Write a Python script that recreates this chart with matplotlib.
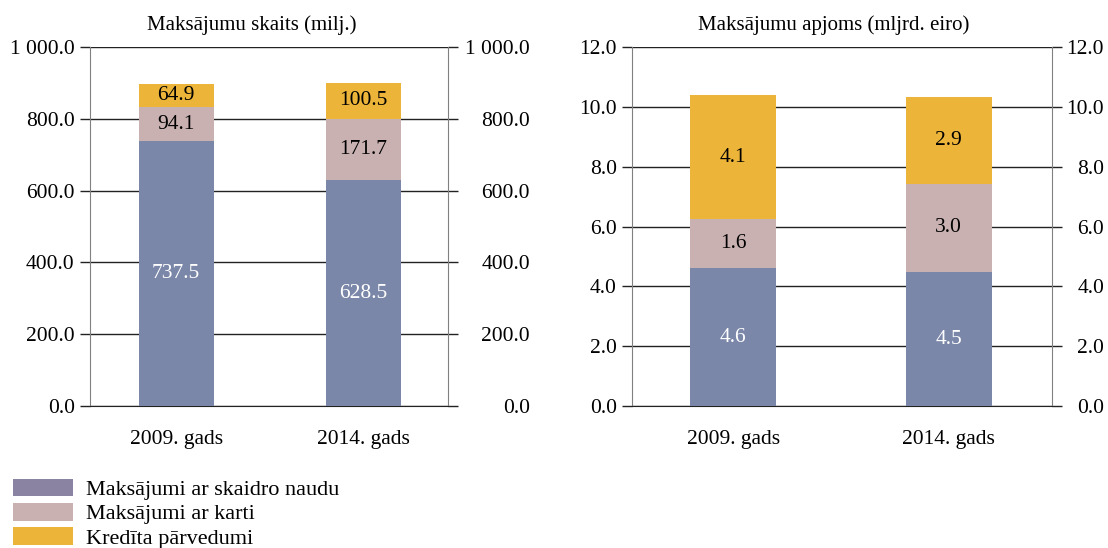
import matplotlib
matplotlib.use("Agg")
import matplotlib.pyplot as plt
from matplotlib.patches import Patch
from matplotlib.ticker import FuncFormatter
from matplotlib.transforms import ScaledTranslation

plt.rcParams["font.family"] = ["Liberation Serif", "DejaVu Serif"]
plt.rcParams["font.size"] = 15

years = ["2009. gads", "2014. gads"]
series_names = ["Maksājumi ar skaidro naudu", "Maksājumi ar karti", "Kredīta pārvedumi"]
colors = ["#7b87a9", "#c9b1b1", "#ecb53a"]
legend_colors = ["#8a84a2", "#c9b1b1", "#ecb53a"]
label_colors = ["white", "black", "black"]

count_cash = [737.5, 628.5]
count_card = [94.1, 171.7]
count_credit = [64.9, 100.5]

value_cash = [4.60, 4.47]
value_card = [1.64, 2.96]
value_credit = [4.14, 2.90]


def fmt(v, _):
    return f"{v:,.1f}".replace(",", " ")


fig = plt.figure(figsize=(11.08, 5.48), dpi=100)
ax1 = fig.add_axes([90 / 1108, 1 - 406 / 548, 358 / 1108, 359 / 548])
ax2 = fig.add_axes([632 / 1108, 1 - 406 / 548, 420 / 1108, 359 / 548])


def draw(ax, data, ymax, step, title, xlim, title_x, roff):
    x = list(range(len(years)))
    bottom = [0.0] * len(years)
    for vals, c, tc in zip(data, colors, label_colors):
        ax.bar(x, vals, 0.40, bottom=bottom, color=c, zorder=3)
        for xi, b, v in zip(x, bottom, vals):
            ax.text(xi, b + v / 2, f"{v:.1f}", ha="center", va="center",
                    color=tc, fontsize=15.5, zorder=4)
        bottom = [b + v for b, v in zip(bottom, vals)]
    ax.set_xlim(*xlim)
    ax.set_ylim(0, ymax)
    ax.set_yticks([i * step for i in range(int(round(ymax / step)) + 1)])
    ax.yaxis.set_major_formatter(FuncFormatter(fmt))
    ax.set_xticks(x)
    ax.set_xticklabels(years, fontsize=15.5)
    ax.tick_params(axis="x", length=0, pad=17)
    ax.tick_params(axis="y", direction="out", length=7, width=1,
                   color="#222222", left=True, right=True,
                   labelleft=True, labelright=True, labelsize=15.5, pad=4)
    ax.grid(axis="y", color="#222222", lw=1, zorder=0)
    ax.spines["top"].set_visible(False)
    ax.spines["left"].set_color("#808080")
    ax.spines["right"].set_color("#808080")
    ax.spines["bottom"].set_color("#222222")
    ax.set_title(title, fontsize=15, pad=12, x=title_x)
    # right-hand labels are right-aligned past the widest label
    for t in ax.yaxis.get_major_ticks():
        lab = t.label2
        lab.set_horizontalalignment("right")
        lab.set_transform(ax.get_yaxis_transform() +
                          ScaledTranslation((7 + roff) / 100, 0, fig.dpi_scale_trans))
        lab.set_x(1)


draw(ax1, [count_cash, count_card, count_credit], 1000, 200,
     "Maksājumu skaits (milj.)", (-0.46, 1.45), 0.453, 75)
draw(ax2, [value_cash, value_card, value_credit], 12, 2,
     "Maksājumu apjoms (mljrd. eiro)", (-0.47, 1.48), 0.481, 45)

handles = [Patch(facecolor=c, edgecolor="none") for c in legend_colors]
fig.legend(handles, series_names, loc="upper left",
           bbox_to_anchor=(-3 / 1108, 1 - 463 / 548), frameon=False,
           handlelength=2.7, handleheight=0.85, handletextpad=0.6,
           labelspacing=0.12, fontsize=16, borderaxespad=0.3)

fig.savefig("out.png", dpi=100)
